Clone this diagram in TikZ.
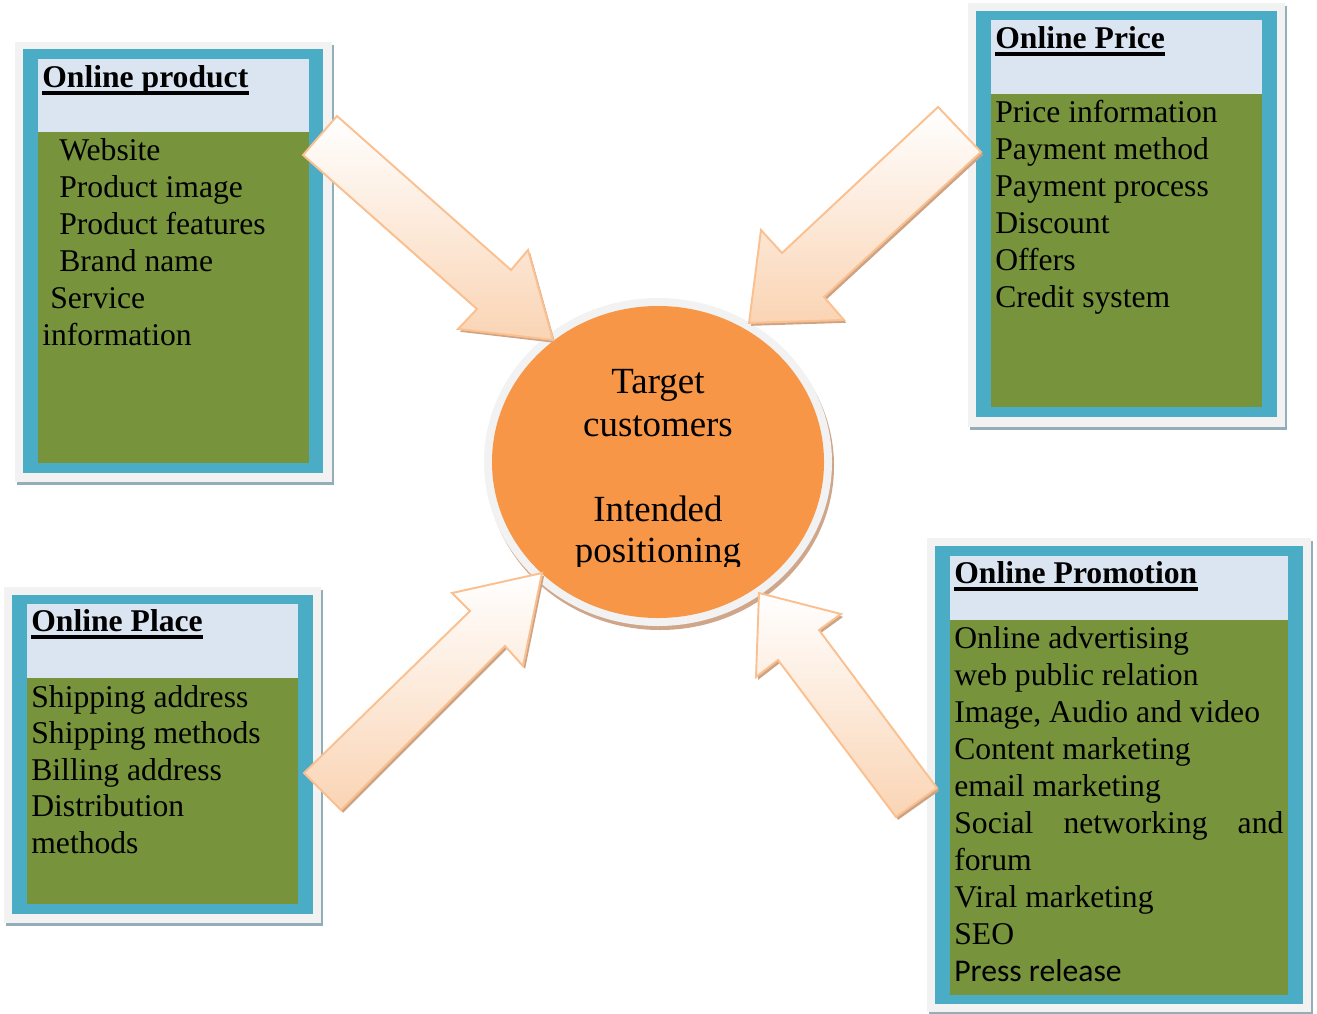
\documentclass[tikz,border=0pt]{standalone}
\usepackage{fontspec}
\setmainfont{Liberation Serif}
\newfontfamily\calib{Carlito}
\usetikzlibrary{shadows}

\definecolor{framegray}{HTML}{F2F2F2}
\definecolor{frameshade}{HTML}{93AEB9}
\definecolor{boxblue}{HTML}{4BACC6}
\definecolor{hdblue}{HTML}{DBE5F1}
\definecolor{boxgreen}{HTML}{77933C}
\definecolor{orng}{HTML}{F79646}
\definecolor{ringshade}{HTML}{CFA689}
\definecolor{arrline}{HTML}{FAC090}
\definecolor{arrpeach}{HTML}{FAD4B4}
\definecolor{arrshade}{HTML}{CDA385}

\begin{document}
\begin{tikzpicture}[x=0.2mm,y=-0.2mm,
  item/.style={anchor=base west,inner sep=0pt,font=\fontsize{18}{21}\selectfont},
  ttl/.style={item,font=\fontsize{18}{21}\selectfont\bfseries},
  ul/.style={line width=2.1pt},
  mid/.style={anchor=base,inner sep=0pt,font=\fontsize{21}{24}\selectfont},
  outer/.style={fill=framegray,drop shadow={shadow xshift=1.3pt,shadow yshift=-1.5pt,fill=frameshade,opacity=1}},
  blk/.style={draw=arrline,line width=1.1pt,line join=miter,top color=white,bottom color=arrpeach,
    drop shadow={shadow xshift=1.2pt,shadow yshift=-1.6pt,fill=arrshade,opacity=1}}]
  \useasboundingbox (0,0) rectangle (1317,1013);

  % online product
  \fill[outer] (15,42) rectangle (332,482);
  \fill[boxblue] (23,49) rectangle (323,473);
  \fill[hdblue] (38,59) rectangle (309,132);
  \fill[boxgreen] (38,132) rectangle (309,463);
  \node[ttl] (prod) at (42,87) {Online product};
  \draw[ul] ([yshift=-3.3pt]prod.base west) -- ([yshift=-3.3pt]prod.base east);
  \foreach \x/\y/\t [count=\i] in {59/160/Website, 59/197/Product image, 59/234/Product features,
      59/271/Brand name, 50/308/Service, 42/345/information}
    \node[item] (prod\i) at (\x,\y) {\t};

  % online price
  \fill[outer] (968,3) rectangle (1285,427);
  \fill[boxblue] (976,11) rectangle (1277,417);
  \fill[hdblue] (991,20) rectangle (1262,94);
  \fill[boxgreen] (991,94) rectangle (1262,407);
  \node[ttl] (price) at (995,48) {Online Price};
  \draw[ul] ([yshift=-3.3pt]price.base west) -- ([yshift=-3.3pt]price.base east);
  \foreach \t [count=\i from 0] in {Price information, Payment method, Payment process,
      Discount, Offers, Credit system}
    \node[item] (price\i) at (995,122+37*\i) {\t};

  % online place
  \fill[outer] (4,587) rectangle (321,923);
  \fill[boxblue] (12,595) rectangle (313,914);
  \fill[hdblue] (27,604) rectangle (298,678);
  \fill[boxgreen] (27,678) rectangle (298,904);
  \node[ttl] (place) at (31,631) {Online Place};
  \draw[ul] ([yshift=-3.3pt]place.base west) -- ([yshift=-3.3pt]place.base east);
  \foreach \t [count=\i from 0] in {Shipping address, Shipping methods, Billing address,
      Distribution, methods}
    \node[item] (place\i) at (31,707+36.6*\i) {\t};

  % online promotion
  \fill[outer] (927,538) rectangle (1311,1012);
  \fill[boxblue] (935,546) rectangle (1303,1004);
  \fill[hdblue] (950,556) rectangle (1288,620);
  \fill[boxgreen] (950,620) rectangle (1288,995);
  \node[ttl] (promo) at (954,583) {Online Promotion};
  \draw[ul] ([yshift=-3.3pt]promo.base west) -- ([yshift=-3.3pt]promo.base east);
  \foreach \t [count=\i from 0] in {Online advertising, web public relation, {Image, Audio and video},
      Content marketing, email marketing, {\makebox[65.8mm][s]{Social networking and}}, forum,
      Viral marketing, SEO, {\calib Press release}}
    \node[item] (promo\i) at (954,648+37*\i) {\t};

  % centre
  \fill[ringshade] (660,466) ellipse [x radius=34.8mm,y radius=32.8mm];
  \fill[framegray] (658,462) ellipse [x radius=34.8mm,y radius=32.8mm];
  \fill[orng] (658,462) ellipse [x radius=33.2mm,y radius=31.2mm];
  \node[mid] (tgt) at (658,393) {Target};
  \node[mid] (cust) at (658,436) {customers};
  \node[mid] (intd) at (658,521) {Intended};
  \begin{scope}
    \clip (450,450) rectangle (870,566);
    \node[mid] (posn) at (658,562) {positioning};
  \end{scope}

  % block arrows
  \filldraw[blk] (337,116) -- (511,270) -- (528,250) -- (553,340) -- (458,329) -- (477,309) -- (303,155) -- cycle;
  \filldraw[blk] (938,107) -- (981,152) -- (824,297) -- (844,320) -- (749,323) -- (761,230) -- (782,253) -- cycle;
  \filldraw[blk] (304,773) -- (470,611) -- (452,593) -- (542,573) -- (523,666) -- (505,646) -- (341,810) -- cycle;
  \filldraw[blk] (759,593) -- (841,614) -- (819,630) -- (937,788) -- (896,817) -- (778,660) -- (756,677) -- cycle;
\end{tikzpicture}
\end{document}
